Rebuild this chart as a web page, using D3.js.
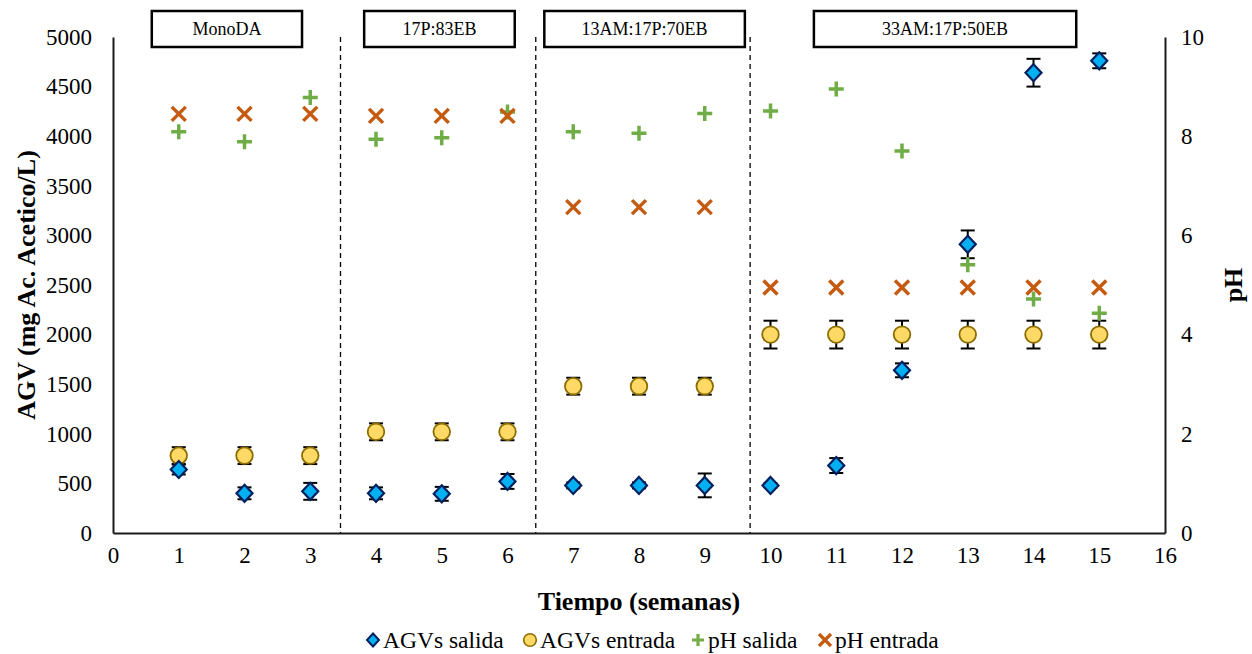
<!DOCTYPE html>
<html>
<head>
<meta charset="utf-8">
<script src="https://cdn.jsdelivr.net/npm/d3@7"></script>
<style>
  body { margin: 0; background: #fff; }
  text { font-family: "Liberation Serif", "Times New Roman", serif; fill: #000; }
</style>
</head>
<body>
<svg id="chart" width="1252" height="654"></svg>
<script>
// data
const semanas = [1, 2, 3, 4, 5, 6, 7, 8, 9, 10, 11, 12, 13, 14, 15]
const agvSalida = [640, 400, 420, 400, 395, 520, 480, 480, 480, 480, 680, 1640, 2910, 4640, 4760]
const errSalida = [50, 60, 85, 60, 70, 75, 30, 30, 120, 20, 75, 70, 140, 140, 75]
const agvEntrada = [780, 780, 780, 1020, 1020, 1020, 1480, 1480, 1480, 2000, 2000, 2000, 2000, 2000, 2000]
const errEntrada = [85, 85, 85, 85, 85, 85, 85, 85, 85, 140, 140, 140, 140, 140, 140]
const phSalida = [8.09, 7.89, 8.78, 7.94, 7.97, 8.49, 8.09, 8.06, 8.46, 8.51, 8.95, 7.7, 5.41, 4.72, 4.43]
const phEntrada = [8.45, 8.45, 8.45, 8.41, 8.41, 8.41, 6.57, 6.57, 6.57, 4.95, 4.95, 4.95, 4.95, 4.95, 4.95]

const xTicks = d3.range(0, 17, 1)
const agvTicks = d3.range(0, 5001, 500)
const phTicks = [0, 2, 4, 6, 8, 10]

const divisiones = [3.46, 6.43, 9.69]
const fases = ["MonoDA", "17P:83EB", "13AM:17P:70EB", "33AM:17P:50EB"]
const faseDesde = [0.59, 3.82, 6.56, 10.66]
const faseHasta = [2.875, 6.11, 9.61, 14.65]

const leyenda = ["AGVs salida", "AGVs entrada", "pH salida", "pH entrada"]

const width = 1252, height = 654
const margin = {top: 37, right: 87, bottom: 121, left: 113}

const svg = d3.select("#chart")

const x = d3.scaleLinear().domain([0, 16]).range([margin.left, width - margin.right])
const yAgv = d3.scaleLinear().domain([0, 5000]).range([height - margin.bottom, margin.top])
const yPh = d3.scaleLinear().domain([0, 10]).range([height - margin.bottom, margin.top])

const colors = {
  salida: "#00B0F0", salidaLine: "#002060",
  entrada: "#FFD966", entradaLine: "#8C6D00",
  phSal: "#70AD47", phEnt: "#C55A11"
}

// axes, no tick marks
const axisStyle = g => {
  g.attr("font-family", "Liberation Serif").attr("font-size", 23)
  g.select(".domain").attr("stroke", "#1a1a1a").attr("stroke-width", 2)
  g.selectAll(".tick line").remove()
  g.selectAll(".tick text")
    .attr("font-family", "Liberation Serif")
    .style("font-size", "23px")
    .style("font-family", "'Liberation Serif', serif")
}

svg.append("g")
  .attr("transform", `translate(0, ${height - margin.bottom})`)
  .call(d3.axisBottom(x).tickValues(xTicks).tickFormat(d3.format("d")).tickSize(0).tickPadding(14).tickSizeOuter(0))
  .call(axisStyle)

svg.append("g")
  .attr("transform", `translate(${margin.left}, 0)`)
  .call(d3.axisLeft(yAgv).tickValues(agvTicks).tickFormat(d3.format("d")).tickSize(0).tickPadding(21).tickSizeOuter(0))
  .call(axisStyle)

svg.append("g")
  .attr("transform", `translate(${width - margin.right}, 0)`)
  .call(d3.axisRight(yPh).tickValues(phTicks).tickFormat(d3.format("d")).tickSize(0).tickPadding(16).tickSizeOuter(0))
  .call(axisStyle)

// phase dividers
svg.append("g").selectAll("line")
  .data(divisiones)
  .join("line")
  .attr("x1", d => x(d)).attr("x2", d => x(d))
  .attr("y1", yAgv(5000)).attr("y2", yAgv(0))
  .attr("stroke", "#000").attr("stroke-width", 1.3)
  .attr("stroke-dasharray", "5,4")

// phase boxes
const boxes = svg.append("g").selectAll("g")
  .data(fases)
  .join("g")

boxes.append("rect")
  .attr("x", (d, i) => x(faseDesde[i]))
  .attr("y", 11)
  .attr("width", (d, i) => x(faseHasta[i]) - x(faseDesde[i]))
  .attr("height", 36)
  .attr("fill", "#fff").attr("stroke", "#000").attr("stroke-width", 2.5)

boxes.append("text")
  .attr("x", (d, i) => (x(faseDesde[i]) + x(faseHasta[i])) / 2)
  .attr("y", 29)
  .attr("dy", "0.35em")
  .attr("text-anchor", "middle")
  .style("font-size", "18px")
  .text(d => d)

// error bars
const errorBars = (vals, errs) => {
  const g = svg.append("g").attr("stroke", "#000").attr("stroke-width", 2)
  semanas.forEach((s, i) => {
    const cx = x(s), lo = yAgv(vals[i] - errs[i]), hi = yAgv(vals[i] + errs[i])
    g.append("line").attr("x1", cx).attr("x2", cx).attr("y1", lo).attr("y2", hi)
    g.append("line").attr("x1", cx - 7).attr("x2", cx + 7).attr("y1", lo).attr("y2", lo)
    g.append("line").attr("x1", cx - 7).attr("x2", cx + 7).attr("y1", hi).attr("y2", hi)
  })
}

errorBars(agvEntrada, errEntrada)
errorBars(agvSalida, errSalida)

const diamond = "M0,-8.5L8,0L0,8.5L-8,0Z"
const plus = "M-7.5,0H7.5M0,-7.5V7.5"
const cross = "M-7,-7L7,7M-7,7L7,-7"

svg.append("g").selectAll("circle")
  .data(semanas)
  .join("circle")
  .attr("cx", d => x(d))
  .attr("cy", (d, i) => yAgv(agvEntrada[i]))
  .attr("r", 8.3)
  .attr("fill", colors.entrada).attr("stroke", colors.entradaLine).attr("stroke-width", 1.8)

svg.append("g").selectAll("path")
  .data(semanas)
  .join("path")
  .attr("d", diamond)
  .attr("transform", (d, i) => `translate(${x(d)}, ${yAgv(agvSalida[i])})`)
  .attr("fill", colors.salida).attr("stroke", colors.salidaLine).attr("stroke-width", 2.2)

svg.append("g").selectAll("path")
  .data(semanas)
  .join("path")
  .attr("d", plus)
  .attr("transform", (d, i) => `translate(${x(d)}, ${yPh(phSalida[i])})`)
  .attr("fill", "none").attr("stroke", colors.phSal).attr("stroke-width", 3.5)

svg.append("g").selectAll("path")
  .data(semanas)
  .join("path")
  .attr("d", cross)
  .attr("transform", (d, i) => `translate(${x(d)}, ${yPh(phEntrada[i])})`)
  .attr("fill", "none").attr("stroke", colors.phEnt).attr("stroke-width", 3.5)

// axis titles
svg.append("text")
  .attr("transform", `translate(26, ${(yAgv(0) + yAgv(5000)) / 2}) rotate(-90)`)
  .attr("text-anchor", "middle").attr("dy", "0.35em")
  .style("font-size", "26px").style("font-weight", "bold")
  .text("AGV (mg Ac. Acetico/L)")

svg.append("text")
  .attr("transform", `translate(1233, ${(yPh(0) + yPh(10)) / 2}) rotate(-90)`)
  .attr("text-anchor", "middle").attr("dy", "0.35em")
  .style("font-size", "26px").style("font-weight", "bold")
  .text("pH")

svg.append("text")
  .attr("x", (x(0) + x(16)) / 2).attr("y", 601)
  .attr("text-anchor", "middle").attr("dy", "0.35em")
  .style("font-size", "26px").style("font-weight", "bold")
  .text("Tiempo (semanas)")

// legend
const legX = [373, 530, 698, 825]
const legY = 640
const leg = svg.append("g")
leyenda.forEach((name, i) => {
  const g = leg.append("g").attr("transform", `translate(${legX[i]}, ${legY})`)
  if (i === 0) g.append("path").attr("d", "M0,-6.5L6,0L0,6.5L-6,0Z")
    .attr("fill", colors.salida).attr("stroke", colors.salidaLine).attr("stroke-width", 2)
  if (i === 1) g.append("circle").attr("r", 6.3)
    .attr("fill", colors.entrada).attr("stroke", colors.entradaLine).attr("stroke-width", 1.6)
  if (i === 2) g.append("path").attr("d", "M-6,0H6M0,-6V6")
    .attr("stroke", colors.phSal).attr("stroke-width", 3.2)
  if (i === 3) g.append("path").attr("d", "M-6,-6L6,6M-6,6L6,-6")
    .attr("stroke", colors.phEnt).attr("stroke-width", 3.2)
  g.append("text")
    .attr("x", 10).attr("dy", "0.35em")
    .style("font-size", "23.5px")
    .text(name)
})
</script>
</body>
</html>
